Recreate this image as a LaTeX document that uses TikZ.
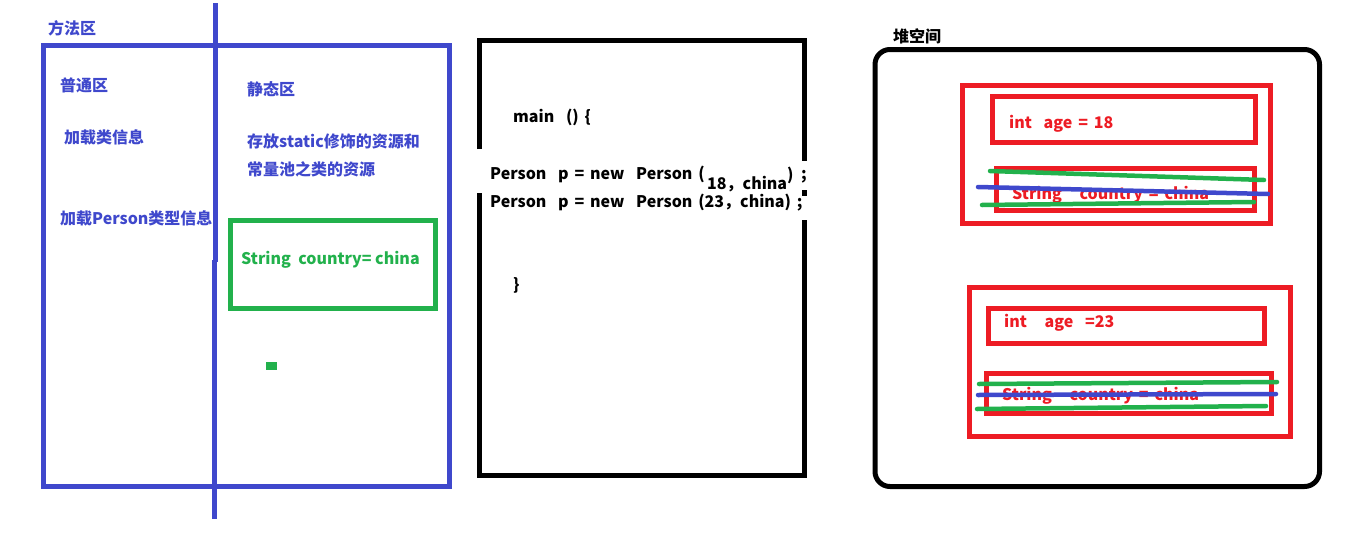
\documentclass[tikz,border=0pt]{standalone}
\usepackage{fontspec}
\setmainfont{Noto Sans CJK SC}
\newfontfamily\codefamily{Noto Sans CJK SC}[WordSpace=1.6]
\usepackage{tikz}
\definecolor{ms_blue}{RGB}{63, 72, 204}
\definecolor{ms_green}{RGB}{34, 177, 76}
\definecolor{ms_red}{RGB}{237, 28, 36}
\newcommand{\paintfont}{\fontsize{16pt}{19pt}\selectfont\bfseries}
\newcommand{\codefont}{\codefamily\fontsize{16pt}{19pt}\selectfont\bfseries}
\tikzstyle{bluebox}=[draw=ms_blue,line width=5pt]
\tikzstyle{greenbox}=[draw=ms_green,line width=5pt]
\tikzstyle{redbox}=[draw=ms_red,line width=5pt]
\tikzstyle{codebox}=[draw=black,line width=5pt]
\tikzstyle{bluetext}=[anchor=west,inner sep=0pt,text=ms_blue,font=\paintfont]
\tikzstyle{greentext}=[anchor=west,inner sep=0pt,text=ms_green,font=\paintfont]
\tikzstyle{redtext}=[anchor=west,inner sep=0pt,text=ms_red,font=\codefont]
\tikzstyle{codetext}=[anchor=west,inner sep=0pt,text=black,font=\codefont]
\tikzstyle{gstrike}=[draw=ms_green,line width=4.5pt,line cap=round]
\tikzstyle{bstrike}=[draw=ms_blue,line width=4.5pt,line cap=round]

\begin{document}
\begin{tikzpicture}[x=1pt,y=-1pt]
    \useasboundingbox (0,0) rectangle (1360,538);
    % method area
    \draw [style=bluebox] (43.5,45) rectangle (449.5,486.5);
    \draw [style=bluebox] (215,3) -- (215,262);
    \draw [style=bluebox] (214,260) -- (214,519);
    \draw [style=greenbox] (230.5,220.5) rectangle (435,308.5);
    \fill [ms_green] (266,362) rectangle (277,370);
    \node [style=bluetext] (fangfa) at (48,28) {方法区};
    \node [style=bluetext] (putong) at (60,85) {普通区};
    \node [style=bluetext] (loadcls) at (64,137) {加载类信息};
    \node [style=bluetext] (loadper) at (60,218) {加载Person类型信息};
    \node [style=bluetext] (jingtai) at (247,89) {静态区};
    \node [style=bluetext] (store1) at (247,141) {存放static修饰的资源和};
    \node [style=bluetext] (store2) at (247,169) {常量池之类的资源};
    \node [style=greentext] (country) at (241,260) {String\ \ country= china};
    % main method
    \draw [style=codebox] (479.5,149) -- (479.5,40.5) -- (804.5,40.5) -- (804.5,161);
    \draw [style=codebox] (479.5,193) -- (479.5,475) -- (804.5,475) -- (804.5,220);
    \draw [style=codebox] (804.5,190) -- (804.5,196);
    \node [style=codetext] (main) at (513,117) {main\ \ () \{};
    \node [style=codetext] (line1) at (490,174) {Person\ \ p = new\ \ Person (};
    \node [style=codetext] (arg1) at (707,184) {18，china};
    \node [style=codetext] (close1) at (787,175) {)};
    \node [style=codetext] (semi1) at (801,177) {;};
    \node [style=codetext] (line2) at (490,203) {Person\ \ p = new\ \ Person (23，china) ;};
    \node [style=codetext] (brace) at (513,285) {\}};
    % heap
    \node [style=codetext] (heap) at (893,36) {堆空间};
    \draw [style=codebox,rounded corners=15pt] (875,49.5) rectangle (1319.5,486.5);
    \draw [style=redbox] (962.5,85.5) rectangle (1270.5,223.5);
    \draw [style=redbox] (992.5,96.5) rectangle (1255.5,142.5);
    \draw [style=redbox] (996.5,168.5) rectangle (1254.5,210.5);
    \node [style=redtext] (age1) at (1009,124) {int\ \ age = 18};
    \node [style=redtext] (str1) at (1012,195) {String\ \ \ country = china};
    \draw [style=redbox] (969.5,287.5) rectangle (1290.5,436.5);
    \draw [style=redbox] (988.5,308.5) rectangle (1264.5,343.5);
    \draw [style=redbox] (986.5,373.5) rectangle (1271.5,413.5);
    \node [style=redtext] (age2) at (1004,323) {int\ \ \ age\ \ =23};
    \node [style=redtext] (str2) at (1002,396) {String\ \ \ country = china};
    % crossed out
    \coordinate (g1a) at (990,171);
    \coordinate (g1b) at (1264,180);
    \coordinate (b1a) at (978,187);
    \coordinate (b1b) at (1268,194);
    \coordinate (g2a) at (982,205);
    \coordinate (g2b) at (1254,202);
    \coordinate (g3a) at (979,384);
    \coordinate (g3b) at (1277,382);
    \coordinate (b2a) at (978,395);
    \coordinate (b2b) at (1276,394);
    \coordinate (g4a) at (977,409);
    \coordinate (g4b) at (1266,406);
    \draw [style=gstrike] (g1a) to (g1b);
    \draw [style=bstrike] (b1a) to (b1b);
    \draw [style=gstrike] (g2a) to (g2b);
    \draw [style=gstrike] (g3a) to (g3b);
    \draw [style=bstrike] (b2a) to (b2b);
    \draw [style=gstrike] (g4a) to (g4b);
\end{tikzpicture}
\end{document}
